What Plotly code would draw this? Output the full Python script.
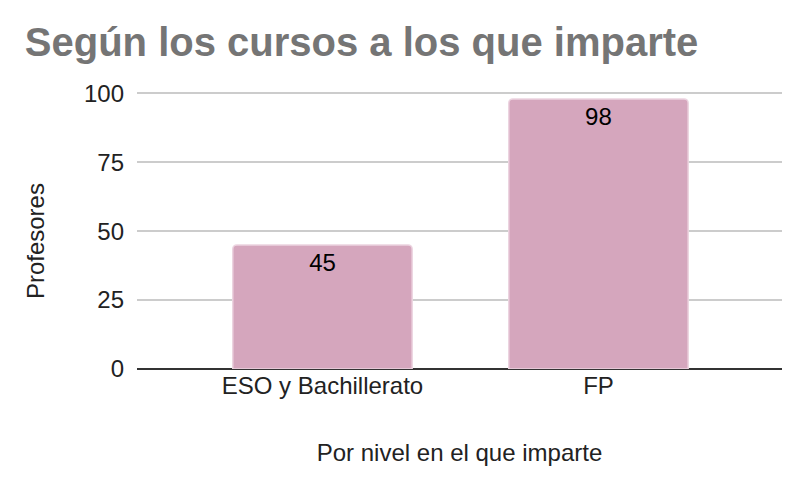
import plotly.graph_objects as go

categories = ["ESO y Bachillerato", "FP"]
values = [45, 98]
y_ticks = [0, 25, 50, 75, 100]

fig = go.Figure(go.Bar(
    x=categories, y=values, text=[str(v) for v in values],
    textposition="inside", insidetextanchor="end",
    textfont=dict(family="Liberation Sans, Arial", size=24, color="#000000"),
    marker=dict(color="#d5a6bd", line=dict(color="#ecd4e0", width=1.5), cornerradius=4),
    width=0.65,
))

fig.update_layout(
    width=800, height=482,
    margin=dict(l=129, r=26, t=84, b=121),
    paper_bgcolor="white", plot_bgcolor="white",
    font=dict(family="Liberation Sans, Arial", size=24, color="#222222"),
    title=dict(text="<b>Según los cursos a los que imparte</b>", x=0.021, xanchor="left",
               y=0.93, yanchor="middle",
               font=dict(family="Liberation Sans, Arial", size=40, color="#757575")),
    showlegend=False,
    xaxis=dict(range=[-0.672, 1.665], showgrid=False, ticks="", showline=False,
               title=dict(text="Por nivel en el que imparte", standoff=46,
                          font=dict(size=24, color="#222222")),
               tickfont=dict(size=24, color="#222222")),
    yaxis=dict(range=[0, 100.5], tickvals=y_ticks, showgrid=True, gridcolor="#cccccc",
               gridwidth=1.5, zeroline=True, zerolinecolor="#333333", zerolinewidth=1.5,
               ticks="", ticklabelstandoff=12,
               tickfont=dict(size=24, color="#222222")),
    annotations=[dict(text="Profesores", xref="paper", yref="paper", x=-0.158, y=0.462,
                      xanchor="center", yanchor="middle", textangle=-90, showarrow=False,
                      font=dict(size=24, color="#222222"))],
)

fig.write_html("out.html")
